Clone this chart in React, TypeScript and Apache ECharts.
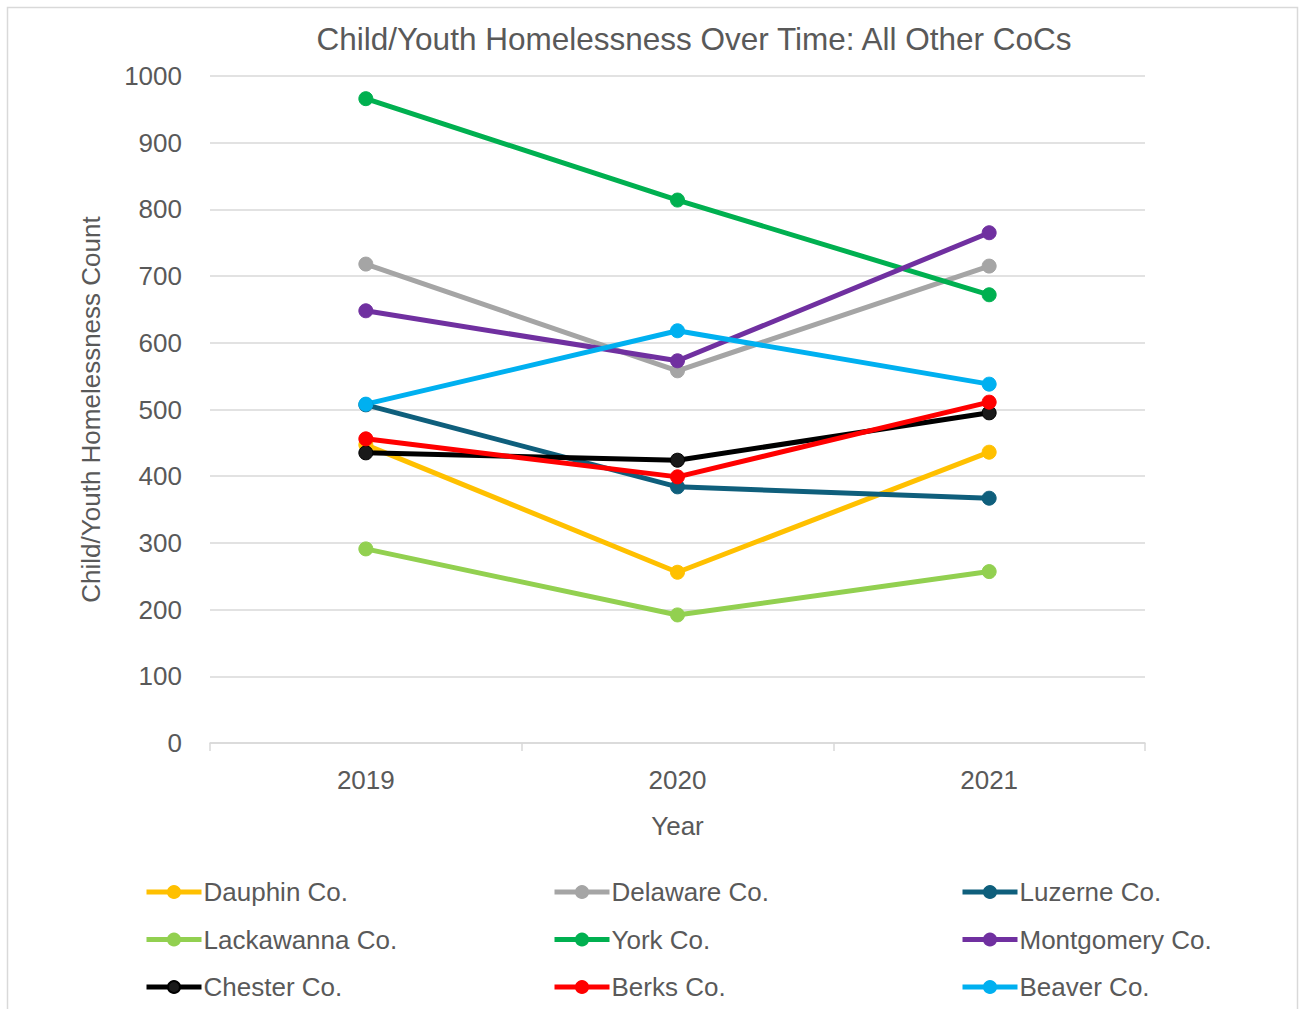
import React, { useEffect, useRef } from "react";
import * as echarts from "echarts";

const years = ["2019", "2020", "2021"];
const seriesNames = [
  "Dauphin Co.",
  "Delaware Co.",
  "Luzerne Co.",
  "Lackawanna Co.",
  "York Co.",
  "Montgomery Co.",
  "Chester Co.",
  "Berks Co.",
  "Beaver Co.",
];
const dauphin = [447, 256, 436];
const delaware = [718, 558, 715];
const luzerne = [507, 384, 367];
const lackawanna = [291, 192, 257];
const york = [966, 814, 672];
const montgomery = [648, 573, 765];
const chester = [435, 424, 495];
const berks = [456, 399, 511];
const beaver = [508, 618, 538];
const seriesValues = [dauphin, delaware, luzerne, lackawanna, york, montgomery, chester, berks, beaver];
const colors = ["#FFC000", "#A5A5A5", "#0F5F7C", "#92D050", "#00B050", "#7030A0", "#000000", "#FF0000", "#00B0F0"];
const yTicks = [0, 100, 200, 300, 400, 500, 600, 700, 800, 900, 1000];

const FONT = "'Liberation Sans Narrow', 'Arial Narrow', 'Liberation Sans', sans-serif";
const TXT = "#595959";

export default function App() {
  const ref = useRef<HTMLDivElement>(null);
  useEffect(() => {
    document.body.style.margin = "0";
    const chart = echarts.init(ref.current!, null, { renderer: "svg" });
    const legendCols = [
      [0, 3, 6],
      [1, 4, 7],
      [2, 5, 8],
    ];
    const legendLeft = [144, 552, 960];
    chart.setOption({
      animation: false,
      textStyle: { fontFamily: FONT },
      title: {
        text: "Child/Youth Homelessness Over Time: All Other CoCs",
        left: 689,
        top: 18,
        textAlign: "center",
        textStyle: { fontFamily: FONT, fontSize: 31.5, fontWeight: "normal", color: TXT },
      },
      graphic: [
        {
          type: "rect",
          shape: { x: 7.5, y: 7.5, width: 1290, height: 1010 },
          style: { fill: "none", stroke: "#d9d9d9", lineWidth: 1.5 },
          silent: true,
        },
      ],
      grid: { left: 210, right: 160, top: 76, bottom: 266 },
      legend: legendCols.map((col, i) => ({
        orient: "vertical",
        left: legendLeft[i],
        top: 877,
        padding: 0,
        itemGap: 17.5,
        itemWidth: 55,
        itemHeight: 15,
        lineStyle: { width: 5 },
        data: col.map((k) => seriesNames[k]),
        textStyle: { fontFamily: FONT, fontSize: 26, color: TXT, lineHeight: 30, padding: [0, 0, 0, -3] },
      })),
      xAxis: {
        type: "category",
        data: years,
        boundaryGap: true,
        name: "Year",
        nameLocation: "middle",
        nameGap: 70,
        nameTextStyle: { fontFamily: FONT, fontSize: 26, color: TXT },
        axisLine: { lineStyle: { color: "#d9d9d9", width: 1.5 } },
        axisTick: { show: true, length: 8, lineStyle: { color: "#d9d9d9", width: 1.5 } },
        axisLabel: { fontFamily: FONT, fontSize: 26, color: TXT, margin: 24 },
      },
      yAxis: {
        type: "value",
        min: 0,
        max: 1000,
        interval: 100,
        name: "Child/Youth Homelessness Count",
        nameLocation: "middle",
        nameGap: 106,
        nameTextStyle: { fontFamily: FONT, fontSize: 26, color: TXT },
        axisLine: { show: false },
        axisTick: { show: false },
        splitLine: { lineStyle: { color: "#d9d9d9", width: 1.5 } },
        axisLabel: {
          fontFamily: FONT,
          fontSize: 26,
          color: TXT,
          margin: 28,
          formatter: (v: number) => (yTicks.includes(v) ? String(v) : ""),
        },
      },
      series: seriesNames.map((name, i) => ({
        name,
        type: "line",
        data: seriesValues[i],
        symbol: "circle",
        symbolSize: 14,
        lineStyle: { color: colors[i], width: 5 },
        itemStyle: { color: i === 6 ? "#1a1a1a" : colors[i], borderColor: colors[i], borderWidth: 1 },
        emphasis: { disabled: true },
      })),
    });
    return () => chart.dispose();
  }, []);
  return <div ref={ref} style={{ width: 1305, height: 1009 }} />;
}
